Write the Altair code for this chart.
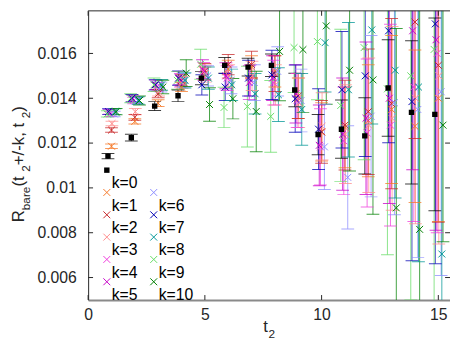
import altair as alt
import pandas as pd

# ---------------- data ----------------
t2_values = list(range(1, 16))
k_values = list(range(11))
k_labels = [f"k={k}" for k in k_values]
k_colors = ["#000000", "#F5792A", "#C8282A", "#FF8C8C", "#F03CDC", "#C800C8",
            "#8C8CFF", "#0000B4", "#009696", "#64DC64", "#008000"]
k_shift = [-0.15, 0.0, 0.0, 0.02, -0.05, -0.1, 0.12, -0.13, 0.15, -0.18, 0.2]

val_k0 = [0.01142, 0.01224, 0.01365, 0.01411, 0.01490, 0.01547, 0.01539, 0.01547, 0.01437, 0.01238, 0.01262, 0.01232, 0.01446, 0.01337, 0.01328]
err_k0 = [0.00012, 0.00015, 0.00020, 0.00026, 0.00030, 0.00035, 0.00040, 0.00050, 0.00075, 0.00090, 0.00130, 0.00170, 0.00215, 0.00320, 0.00430]
val_k1 = [0.01186, 0.01297, 0.01378, 0.01450, 0.01510, 0.01530, 0.01540, 0.01520, 0.01400, 0.01250, 0.01270, 0.01300, 0.01350, 0.01275, 0.01400]
err_k1 = [0.00010, 0.00012, 0.00015, 0.00020, 0.00030, 0.00040, 0.00050, 0.00070, 0.00090, 0.00130, 0.00180, 0.00250, 0.00330, 0.00340, 0.00550]
val_k2 = [0.01258, 0.01315, 0.01420, 0.01480, 0.01520, 0.01550, 0.01550, 0.01510, 0.01410, 0.01250, 0.01280, 0.01340, 0.01376, 0.01740, 0.01547]
err_k2 = [0.00010, 0.00013, 0.00018, 0.00025, 0.00035, 0.00045, 0.00060, 0.00080, 0.00100, 0.00140, 0.00200, 0.00280, 0.00380, 0.00520, 0.00700]
val_k3 = [0.01287, 0.01340, 0.01430, 0.01470, 0.01510, 0.01500, 0.01500, 0.01460, 0.01380, 0.01275, 0.01240, 0.01280, 0.01310, 0.01400, 0.01500]
err_k3 = [0.00010, 0.00014, 0.00020, 0.00027, 0.00038, 0.00050, 0.00065, 0.00090, 0.00110, 0.00150, 0.00220, 0.00300, 0.00410, 0.00560, 0.00750]
val_k4 = [0.01330, 0.01390, 0.01450, 0.01480, 0.01520, 0.01490, 0.01480, 0.01470, 0.01390, 0.01183, 0.01210, 0.01245, 0.01280, 0.01450, 0.01600]
err_k4 = [0.00011, 0.00015, 0.00020, 0.00030, 0.00040, 0.00055, 0.00070, 0.00100, 0.00120, 0.00170, 0.00240, 0.00330, 0.00450, 0.00600, 0.00800]
val_k5 = [0.01340, 0.01400, 0.01460, 0.01490, 0.01530, 0.01500, 0.01470, 0.01490, 0.01420, 0.01190, 0.01240, 0.01311, 0.01400, 0.01701, 0.01661]
err_k5 = [0.00011, 0.00015, 0.00021, 0.00030, 0.00042, 0.00058, 0.00075, 0.00100, 0.00130, 0.00180, 0.00250, 0.00340, 0.00470, 0.00620, 0.00850]
val_k6 = [0.01330, 0.01390, 0.01450, 0.01480, 0.01500, 0.01480, 0.01470, 0.01520, 0.01390, 0.01183, 0.01047, 0.01320, 0.01380, 0.01350, 0.01429]
err_k6 = [0.00012, 0.00016, 0.00022, 0.00030, 0.00045, 0.00060, 0.00080, 0.00110, 0.00140, 0.00190, 0.00230, 0.00360, 0.00500, 0.00660, 0.00820]
val_k7 = [0.01340, 0.01400, 0.01460, 0.01490, 0.01460, 0.01450, 0.01490, 0.01504, 0.01398, 0.01262, 0.01438, 0.01500, 0.01701, 0.01385, 0.01732]
err_k7 = [0.00013, 0.00017, 0.00023, 0.00032, 0.00045, 0.00060, 0.00080, 0.00110, 0.00150, 0.00180, 0.00260, 0.00360, 0.00500, 0.00710, 0.01070]
val_k8 = [0.01340, 0.01390, 0.01460, 0.01480, 0.01490, 0.01460, 0.01420, 0.01416, 0.01350, 0.01648, 0.01438, 0.01705, 0.01525, 0.01450, 0.00705]
err_k8 = [0.00013, 0.00017, 0.00024, 0.00034, 0.00050, 0.00070, 0.00090, 0.00120, 0.00160, 0.00220, 0.00300, 0.00420, 0.00570, 0.00780, 0.01100]
val_k9 = [0.01330, 0.01400, 0.01460, 0.01480, 0.01552, 0.01359, 0.01363, 0.01319, 0.01626, 0.01653, 0.01368, 0.01626, 0.01442, 0.01500, 0.01618]
err_k9 = [0.00014, 0.00020, 0.00030, 0.00040, 0.00067, 0.00090, 0.00180, 0.00160, 0.00200, 0.00260, 0.00340, 0.00500, 0.00740, 0.01000, 0.01200]
val_k10 = [0.01340, 0.01390, 0.01450, 0.01512, 0.01372, 0.01398, 0.01341, 0.01609, 0.01617, 0.01723, 0.01525, 0.01482, 0.00911, 0.00815, 0.01280]
err_k10 = [0.00014, 0.00020, 0.00030, 0.00060, 0.00075, 0.00090, 0.00180, 0.00220, 0.00280, 0.00350, 0.00450, 0.00600, 0.00800, 0.01050, 0.00520]

x_ticks = [0, 5, 10, 15]
y_ticks = [0.006, 0.008, 0.01, 0.012, 0.014, 0.016]
x_domain = [0, 15.5]
y_domain = [0.005, 0.0179]

# ---------------- table ----------------
vals = [val_k0, val_k1, val_k2, val_k3, val_k4, val_k5, val_k6, val_k7, val_k8, val_k9, val_k10]
errs = [err_k0, err_k1, err_k2, err_k3, err_k4, err_k5, err_k6, err_k7, err_k8, err_k9, err_k10]
rows = []
for k in k_values:
    for i, t in enumerate(t2_values):
        v, e = vals[k][i], errs[k][i]
        rows.append({"k": k, "label": k_labels[k], "x": t + k_shift[k],
                     "y": v, "lo": v - e, "hi": v + e})
df = pd.DataFrame(rows)

W, H = 368, 294
FONT = "Liberation Sans"
TXT = "#262626"

xs = alt.Scale(domain=x_domain, nice=False, zero=False)
ys = alt.Scale(domain=y_domain, nice=False, zero=False)
xax = alt.Axis(values=x_ticks, ticks=False, grid=False, title=None, labelFont=FONT,
               labelFontSize=16, labelColor=TXT, labelPadding=7, labelFlush=False,
               domainColor="#8a8a8a", domainWidth=2)
yax = alt.Axis(values=y_ticks, format=".3~f", ticks=False, grid=False, title=None,
               labelFont=FONT, labelFontSize=16, labelColor=TXT, labelPadding=12,
               labelFlush=False, domainColor="#262626", domainWidth=1)
cscale = alt.Scale(domain=k_labels, range=k_colors)

base = alt.Chart(df)
X = alt.X("x:Q", scale=xs, axis=xax)
C = alt.Color("label:N", scale=cscale, legend=None)

bars = base.mark_rule(strokeWidth=1, opacity=0.75, clip=True).encode(
    x=X, y=alt.Y("lo:Q", scale=ys, axis=yax), y2="hi:Q", color=C)
cap_lo = base.mark_tick(orient="horizontal", size=13, thickness=1, opacity=0.75, clip=True).encode(
    x=X, y=alt.Y("lo:Q", scale=ys, axis=yax), color=C)
cap_hi = base.mark_tick(orient="horizontal", size=13, thickness=1, opacity=0.75, clip=True).encode(
    x=X, y=alt.Y("hi:Q", scale=ys, axis=yax), color=C)

CROSS = "M-1,-1L1,1M-1,1L1,-1"
crosses = base.transform_filter("datum.k > 0").mark_point(
    shape=CROSS, size=49, filled=False, strokeWidth=1, opacity=1, clip=True).encode(
    x=X, y=alt.Y("y:Q", scale=ys, axis=yax), color=C)
squares = base.transform_filter("datum.k == 0").mark_square(
    size=30, filled=True, color="black", opacity=1, clip=True).encode(
    x=X, y=alt.Y("y:Q", scale=ys, axis=yax))

# inward ticks and top frame
ydf = pd.DataFrame({"y": y_ticks})
xdf = pd.DataFrame({"x": x_ticks})
tick_l = alt.Chart(ydf).mark_rule(color=TXT, strokeWidth=1).encode(
    y=alt.Y("y:Q", scale=ys, axis=yax), x=alt.value(0), x2=alt.value(5))
tick_r = alt.Chart(ydf).mark_rule(color=TXT, strokeWidth=1).encode(
    y=alt.Y("y:Q", scale=ys, axis=yax), x=alt.value(W - 5), x2=alt.value(W))
tick_b = alt.Chart(xdf).mark_rule(color=TXT, strokeWidth=1).encode(
    x=X, y=alt.value(H), y2=alt.value(H - 5))
tick_t = alt.Chart(xdf).mark_rule(color=TXT, strokeWidth=1).encode(
    x=X, y=alt.value(0), y2=alt.value(5))
one = pd.DataFrame({"a": [0]})
top_line = alt.Chart(one).mark_rule(color=TXT, strokeWidth=1).encode(
    x=alt.value(0), x2=alt.value(W), y=alt.value(0))

# manual legend (two columns, second column starts one row lower)
leg_rows = []
for k in k_values:
    col = 0 if k <= 5 else 1
    row = k if k <= 5 else k - 5
    leg_rows.append({"k": k, "label": k_labels[k], "lx": 19 + col * 47.7,
                     "ly": 162 + row * 22.7})
ldf = pd.DataFrame(leg_rows)
lbase = alt.Chart(ldf)
LX = alt.X("lx:Q", scale=None, axis=None)
LY = alt.Y("ly:Q", scale=None, axis=None)
leg_cross = lbase.transform_filter("datum.k > 0").mark_point(
    shape=CROSS, size=49, filled=False, strokeWidth=1, opacity=1).encode(
    x=LX, y=LY, color=C)
leg_sq = lbase.transform_filter("datum.k == 0").mark_square(
    size=30, filled=True, color="black", opacity=1).encode(x=LX, y=LY)
leg_txt = lbase.mark_text(align="left", baseline="alphabetic", font=FONT,
                          fontSize=16, color="black", dx=5, dy=18.5).encode(
    x=LX, y=LY, text="label:N")

# axis titles with subscripts
OX, OY = 89.5, 8
def txt(s, sx, sy, size, angle=0):
    kw = dict(text=s, font=FONT, fontSize=size, color=TXT, align="left",
              baseline="alphabetic")
    if angle:
        kw["angle"] = angle
    return alt.Chart(one).mark_text(**kw).encode(
        x=alt.value(sx - OX), y=alt.value(sy - OY))

xt1 = txt("t", 267.5, 335, 17)
xt2 = txt("2", 273, 341, 12)

adv = {"R": .722, "b": .556, "a": .556, "r": .333, "e": .556, " ": .278,
       "(": .333, "t": .278, "2": .556, "+": .584, "/": .278, "-": .333,
       "k": .5, ",": .278, ")": .333}
pieces = [("R", 17, 0), ("bare", 12, 1), (" (t", 17, 0), ("2", 12, 1),
          (" +/-k, t", 17, 0), ("2", 12, 1), (" )", 17, 0)]
ytitle = []
ypos = 223
for s, size, sub in pieces:
    bx = 24 + (6.5 if sub else 0)
    ytitle.append(txt(s, bx, ypos, size, angle=270))
    ypos -= sum(adv[c] for c in s) * size

chart = alt.layer(
    bars, cap_lo, cap_hi, crosses, squares,
    tick_l, tick_r, tick_b, tick_t, top_line,
    leg_cross, leg_sq, leg_txt, xt1, xt2, *ytitle
).properties(
    width=W, height=H,
    padding={"left": 81.5, "top": 0, "right": 0, "bottom": 49},
    autosize=alt.AutoSizeParams(type="none"),
).configure_view(stroke=None)

chart.save("out.html", embed_options={"renderer": "svg", "actions": False})
